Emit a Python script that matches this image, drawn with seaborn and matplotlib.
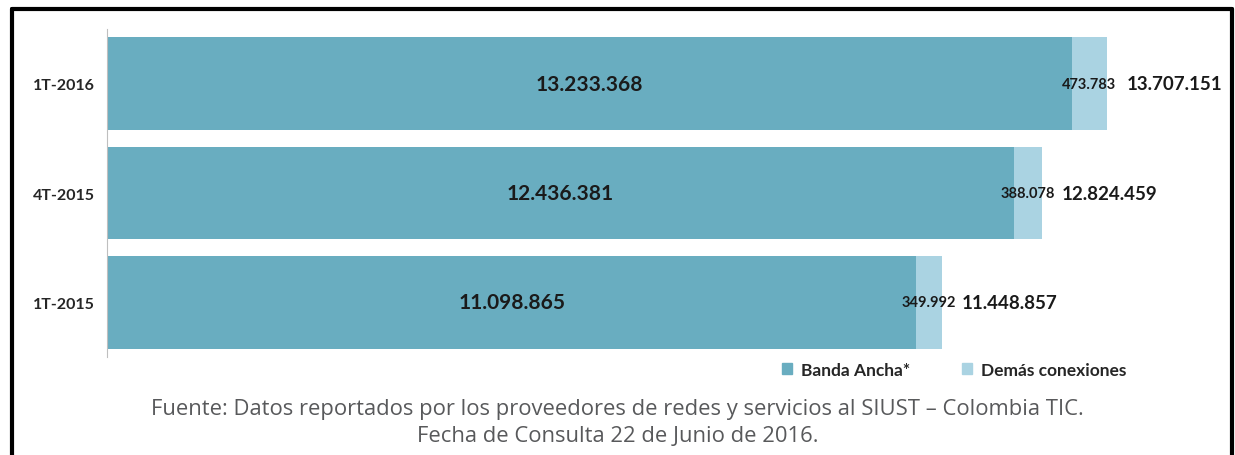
import seaborn as sns
import matplotlib.pyplot as plt
import pandas as pd
from matplotlib.lines import Line2D
from matplotlib.patches import Rectangle

# =============================================================================
# Data
periodos = ['1T-2016', '4T-2015', '1T-2015']
banda_ancha = [13233368, 12436381, 11098865]
demas_conex = [473783, 388078, 349992]
totales = [13707151, 12824459, 11448857]

colBanda = '#69adc0'
colDemas = '#aad3e2'


def fmt(v):
    return '{:,}'.format(v).replace(',', '.')


df = pd.DataFrame({'Periodo': periodos, 'Banda': banda_ancha,
                   'Demas': demas_conex, 'Total': totales})

# =============================================================================
sns.set_style('white')
plt.rcParams['font.family'] = ['Lato', 'DejaVu Sans']

fig = plt.figure(figsize=(12.35, 4.56), dpi=100)
ax = fig.add_axes([107 / 1235, 98 / 456, 1094 / 1235, 328 / 456])

# total bar underneath, broadband bar on top -> stacked look
sns.barplot(data=df, x='Total', y='Periodo', color=colDemas, width=0.85,
            saturation=1, linewidth=0, ax=ax)
sns.barplot(data=df, x='Banda', y='Periodo', color=colBanda, width=0.85,
            saturation=1, linewidth=0, ax=ax)

ax.set_xlim(0, 15e6)
ax.set_ylim(2.5, -0.5)
ax.set_xlabel('')
ax.set_ylabel('')
ax.set_xticks([])
for s in ['top', 'right', 'bottom']:
    ax.spines[s].set_visible(False)
ax.spines['left'].set_color('#bfbfbf')
ax.tick_params(axis='y', length=0, pad=9)
for lbl in ax.get_yticklabels():
    lbl.set_fontweight('bold')
    lbl.set_fontsize(11.5)

for i in range(len(periodos)):
    ax.text(banda_ancha[i] / 2, i, fmt(banda_ancha[i]), ha='center',
            va='center', fontsize=15, fontweight='bold', color='#1a1a1a')
    ax.text(banda_ancha[i] + demas_conex[i] / 2, i, fmt(demas_conex[i]),
            ha='center', va='center', fontsize=10.5, fontweight='bold',
            color='#1a1a1a')
    ax.text(totales[i] + 0.27e6, i, fmt(totales[i]), ha='left',
            va='center', fontsize=13.5, fontweight='bold', color='#1a1a1a')

# legend
handles = [Rectangle((0, 0), 1, 1, color=colBanda),
           Rectangle((0, 0), 1, 1, color=colDemas)]
leg = fig.legend(handles, ['Banda Ancha*', 'Demás conexiones'],
                 loc='center', bbox_to_anchor=(954 / 1235, 1 - 371 / 456),
                 ncol=2, frameon=False, handlelength=0.6, handleheight=0.6,
                 handletextpad=0.5, columnspacing=3.0,
                 prop={'weight': 'bold', 'size': 12.5})

# source footnote
fig.text(0.5, 1 - 410 / 456,
         'Fuente: Datos reportados por los proveedores de redes y servicios al SIUST – Colombia TIC.',
         ha='center', va='center', fontsize=15.8, color='#58595b',
         family='Open Sans')
fig.text(0.5, 1 - 437 / 456, 'Fecha de Consulta 22 de Junio de 2016.',
         ha='center', va='center', fontsize=15.8, color='#58595b',
         family='Open Sans')

# black frame (open at the bottom)
fig.add_artist(Line2D([12 / 1235, 1232 / 1235], [1 - 10 / 456, 1 - 10 / 456],
                      color='black', lw=3))
fig.add_artist(Line2D([12 / 1235, 12 / 1235], [0, 1 - 10 / 456],
                      color='black', lw=3))
fig.add_artist(Line2D([1232 / 1235, 1232 / 1235], [0, 1 - 10 / 456],
                      color='black', lw=3))

plt.savefig('out.png', dpi=100)
